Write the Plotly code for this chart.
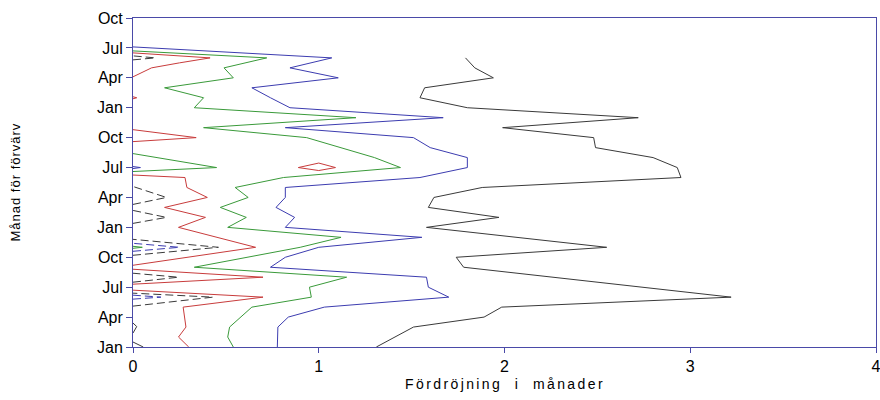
import plotly.graph_objects as go

# Contour lines of the chart: month index (0 = Jan of first year) and delay in months.
# None separates separate pieces of the same contour level.
black_m = [0, 2, 3, 4, 5, 8, 9, 10, 12, 13, 14, 15, 16, 17, 18, 19, 20, 21, 22, 23, 24, 25, 26, 27, 28, 29,
           None, 2.4, 2.05, 1.4, None, 0.5, 0]
black_x = [1.31, 1.51, 1.89, 1.985, 3.22, 1.78, 1.74, 2.55, 1.58, 1.97, 1.59, 1.62, 1.88, 2.95, 2.93, 2.80, 2.49, 2.48,
           1.99, 2.72, 1.80, 1.545, 1.57, 1.94, 1.84, 1.79,
           None, 0, 0.02, 0, None, 0, 0.055]

blue_m = [0, 2, 3, 4, 5, 6, 7, 8, 9, 10, 11, 12, 13, 14, 15, 16, 17, 18, 19, 20, 21, 22, 23, 24, 25, 26, 27, 28, 29, 30.1,
          None, 17.9, 18, 18.1]
blue_x = [0.777, 0.78, 0.836, 1.03, 1.70, 1.59, 1.58, 0.74, 0.82, 1.0, 1.555, 0.82, 0.87, 0.77, 0.82, 0.82, 1.545,
          1.80, 1.80, 1.60, 1.51, 0.82, 1.67, 0.845, 0.74, 0.64, 1.105, 0.845, 1.07, 0.0,
          None, 0, 0.04, 0]

green_m = [0, 1, 2, 4, 5, 6, 7, 8, 10, 11, 12, 13, 14, 15, 16, 17, 18, 19, 21, 22, 23, 24, 25, 26, 27, 28, 29, 29.7,
           None, 17.6, 18, 19.4, None, 9.9, 10, 10.1]
green_x = [0.54, 0.51, 0.52, 0.64, 0.96, 0.95, 1.15, 0.33, 0.90, 1.12, 0.51, 0.61, 0.47, 0.62, 0.55, 0.81, 1.44, 1.30,
           0.935, 0.38, 1.20, 0.33, 0.38, 0.17, 0.54, 0.49, 0.72, 0.0,
           None, 0, 0.45, 0, None, 0, 0.05, 0]

red_m = [0, 1, 2, 4, 5, 5.7,
         None, 6.3, 7, 7.8,
         None, 8.2, 10, 12, 13, 14, 15, 16, 17, 17.25,
         None, 20.6, 21, 21.8,
         None, 18, 18.45, 18, 17.7, 18,
         None, 27.1, 28, 28.5, 29, 29.5,
         None, 24.9, 25, 25.1]
red_x = [0.30, 0.245, 0.285, 0.27, 0.70, 0.0,
         None, 0, 0.70, 0,
         None, 0, 0.66, 0.245, 0.39, 0.17, 0.40, 0.29, 0.28, 0,
         None, 0, 0.34, 0,
         None, 0.89, 1.0, 1.09, 1.0, 0.89,
         None, 0, 0.10, 0.25, 0.415, 0,
         None, 0, 0.02, 0]

dblack_m = [9.2, 10, 10.8, None, 6.5, 7, 7.4, None, 4.1, 5, 5.4, None, 14.3, 15, 16.1, None, 12.4, 13, 13.7,
            None, 28.8, 29, 29.2]
dblack_x = [0, 0.46, 0, None, 0, 0.245, 0, None, 0, 0.43, 0, None, 0, 0.18, 0, None, 0, 0.18, 0,
            None, 0, 0.12, 0]

dblue_m = [9.6, 10, 10.4, None, 4.8, 5, 5.2]
dblue_x = [0, 0.25, 0, None, 0, 0.15, 0]

tick_months = [0, 3, 6, 9, 12, 15, 18, 21, 24, 27, 30, 33]
tick_labels = ["Jan", "Apr", "Jul", "Oct", "Jan", "Apr", "Jul", "Oct", "Jan", "Apr", "Jul", "Oct"]
x_ticks = [0, 1, 2, 3, 4]

AX = "#4a4aa8"
series = [
    (black_x, black_m, "#3a3a3a", "solid"),
    (blue_x, blue_m, "#3c3cb0", "solid"),
    (green_x, green_m, "#3a9a3a", "solid"),
    (red_x, red_m, "#c83c3c", "solid"),
    (dblack_x, dblack_m, "#3a3a3a", "8px,4px"),
    (dblue_x, dblue_m, "#3c3cb0", "8px,4px"),
]

fig = go.Figure()
for xs, ms, col, dash in series:
    fig.add_trace(go.Scatter(x=xs, y=ms, mode="lines", connectgaps=False,
                             line=dict(color=col, width=1, dash=dash), hoverinfo="skip"))

font_family = "Liberation Sans, Arial, sans-serif"
fig.update_layout(
    width=880, height=400,
    margin=dict(l=133, r=4, t=18, b=53),
    paper_bgcolor="white", plot_bgcolor="white",
    showlegend=False,
    font=dict(family=font_family, size=16, color="black"),
    xaxis=dict(range=[0, 4], tickvals=x_ticks, ticktext=[str(v) for v in x_ticks],
               showgrid=False, zeroline=False, showline=True, mirror=True, linecolor=AX, linewidth=1,
               ticks="outside", ticklen=5, tickcolor=AX, tickfont=dict(size=16),
               ticklabeloverflow="allow", automargin=False),
    yaxis=dict(range=[0, 33], tickvals=tick_months, ticktext=tick_labels,
               showgrid=False, zeroline=False, showline=True, mirror=True, linecolor=AX, linewidth=1,
               ticks="outside", ticklen=6, tickcolor=AX, tickfont=dict(size=16), automargin=False),
    annotations=[
        dict(text='<span style="letter-spacing:2.4px">Fördröjning  i  månader</span>',
             xref="paper", yref="paper", x=0.5, y=-0.1125,
             xanchor="center", yanchor="middle", showarrow=False, font=dict(size=14)),
        dict(text='<span style="letter-spacing:1.0px">Månad för förvärv</span>',
             xref="paper", yref="paper", x=-0.1588, y=0.50,
             xanchor="center", yanchor="middle", textangle=-90, showarrow=False, font=dict(size=13)),
    ],
)
fig.write_html("out.html")
